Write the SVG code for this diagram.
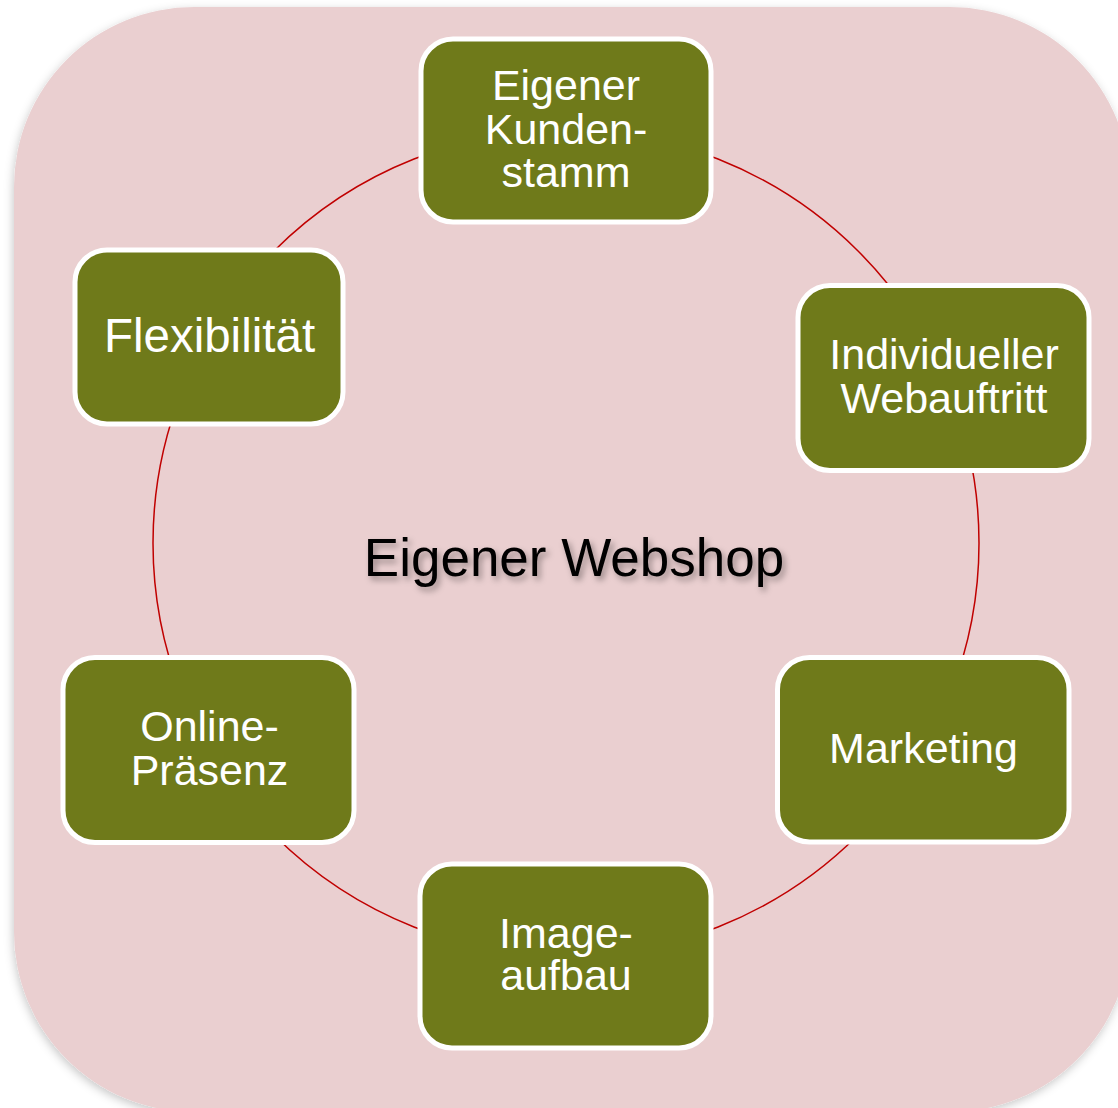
<svg xmlns="http://www.w3.org/2000/svg" width="1118" height="1108" viewBox="0 0 1118 1108">
<defs>
<filter id="bgShadow" x="-10%" y="-10%" width="120%" height="120%">
<feDropShadow dx="-1" dy="3" stdDeviation="5" flood-color="#000" flood-opacity="0.22"/>
</filter>
<filter id="txtShadow" x="-10%" y="-30%" width="120%" height="160%">
<feDropShadow dx="3" dy="4" stdDeviation="3" flood-color="#000" flood-opacity="0.35"/>
</filter>
<style>
.node rect{fill:#6F7A1A;stroke:#FFFFFF;stroke-width:5}
.node text{fill:#FFFFFF;font-family:"Liberation Sans",Arial,sans-serif;font-size:43px;text-anchor:middle}
.center{fill:#000000;font-family:"Liberation Sans",Arial,sans-serif;font-size:53px;text-anchor:middle}
</style>
</defs>
<rect x="14" y="7" width="1116" height="1105" rx="180" ry="180" fill="#EACFD0" filter="url(#bgShadow)"/>
<g id="connectors">
<circle cx="566" cy="543" r="413" fill="none" stroke="#C00000" stroke-width="1.5"/>
</g>
<text class="center" x="574" y="576" filter="url(#txtShadow)">Eigener Webshop</text>
<g id="node-kundenstamm" class="node">
<rect x="421" y="39" width="290" height="183" rx="32"/>
<text x="566" y="100">Eigener</text>
<text x="566" y="143.5">Kunden-</text>
<text x="566" y="187">stamm</text>
</g>
<g id="node-webauftritt" class="node">
<rect x="798" y="285.5" width="291" height="185" rx="32"/>
<text x="944" y="368.5">Individueller</text>
<text x="944" y="412.5">Webauftritt</text>
</g>
<g id="node-marketing" class="node">
<rect x="777.5" y="657.5" width="291.5" height="184.5" rx="32"/>
<text x="923.5" y="762.5">Marketing</text>
</g>
<g id="node-imageaufbau" class="node">
<rect x="420" y="864" width="291" height="184" rx="32"/>
<text x="566" y="947.5">Image-</text>
<text x="566" y="990">aufbau</text>
</g>
<g id="node-onlinepraesenz" class="node">
<rect x="63" y="657.5" width="291" height="185" rx="32"/>
<text x="209.5" y="741">Online-</text>
<text x="209.5" y="785">Präsenz</text>
</g>
<g id="node-flexibilitaet" class="node">
<rect x="75" y="250" width="268" height="174" rx="32"/>
<text x="209.5" y="352" style="font-size:47.5px">Flexibilität</text>
</g>
</svg>
